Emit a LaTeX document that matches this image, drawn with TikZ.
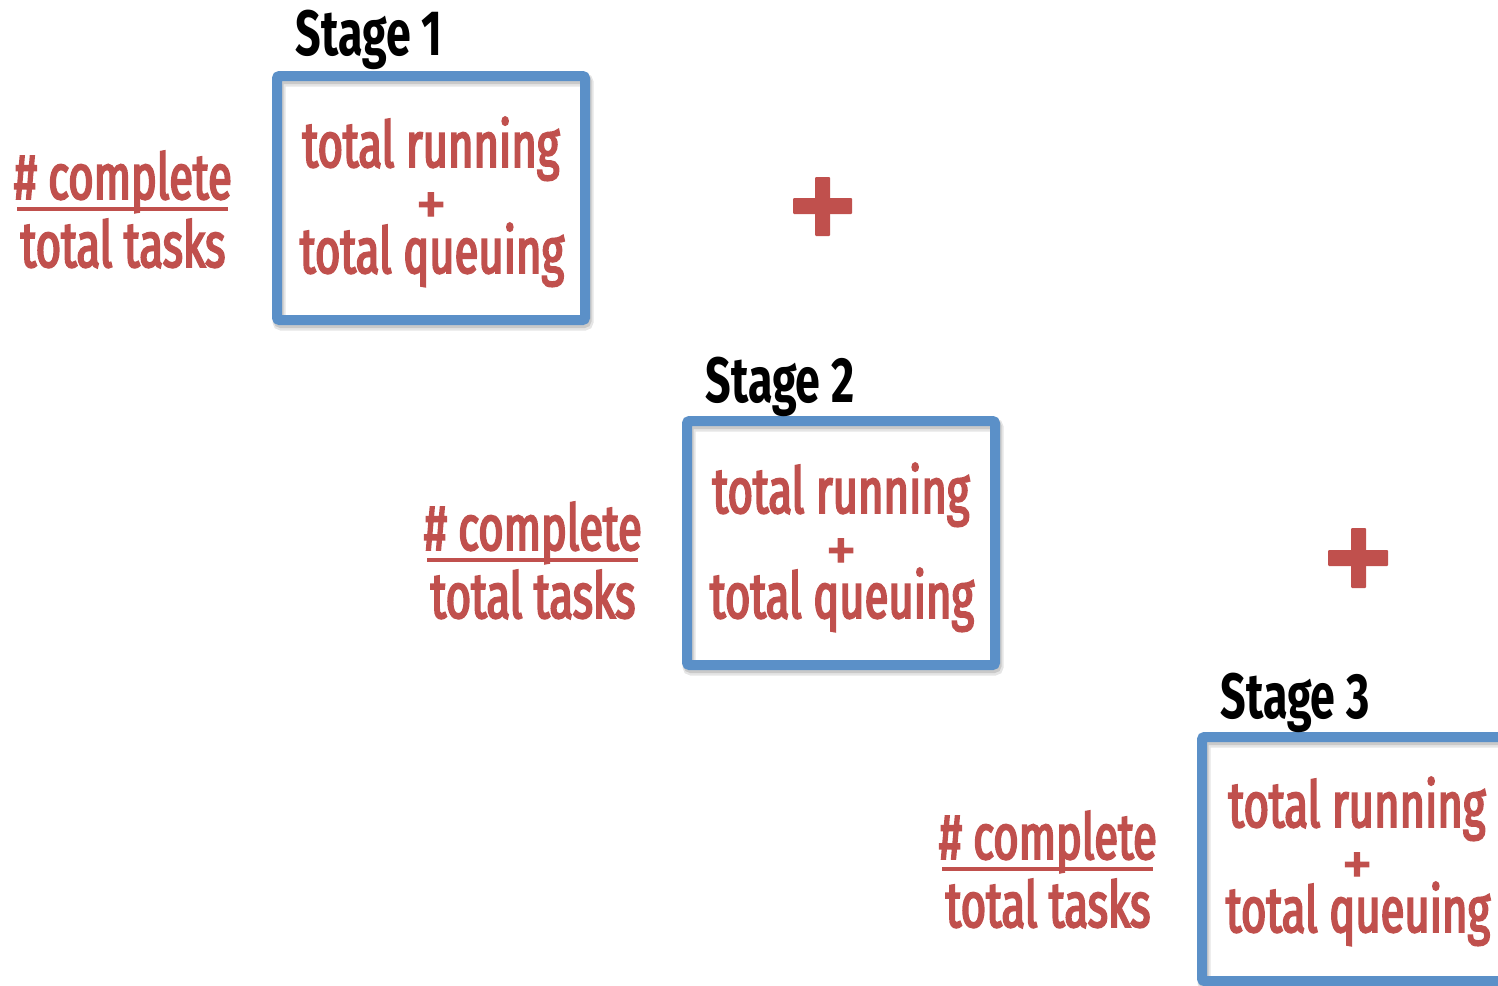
\documentclass[tikz,border=0pt]{standalone}
\usepackage{fontspec}
\usetikzlibrary{calc}
\newfontfamily\termfont[FakeStretch=0.68,FakeBold=3]{Fira Sans}
\newfontfamily\plusfont[FakeBold=2]{Fira Sans}
\newfontfamily\headfont[FakeStretch=0.70]{Fira Sans}
\definecolor{boxblue}{RGB}{91,144,200}
\definecolor{termred}{RGB}{192,80,77}

\tikzset{
  stagebox/.style={draw=boxblue, line width=10pt, rounded corners=2.5pt,
    minimum width=308pt, minimum height=244pt, inner sep=0pt, outer sep=0pt,
    anchor=north west,
    preaction={draw=black, opacity=0.10, line width=13pt,
      transform canvas={shift={(2pt,-4pt)}}},
    preaction={draw=black, opacity=0.12, line width=10pt,
      transform canvas={shift={(1.5pt,-3pt)}}}},
  term/.style={text=termred, font=\termfont\fontsize{64}{64}\selectfont,
    inner sep=0pt, anchor=base},
  % the small plus sits on its baseline; its box is trimmed to the glyph
  smallplus/.style={text=termred, font=\plusfont\fontsize{62}{62}\selectfont,
    inner sep=0pt, text height=34pt, text depth=0pt, anchor=base},
  stagelabel/.style={text=black, font=\headfont\bfseries\fontsize{64}{64}\selectfont,
    inner sep=0pt, anchor=base},
  fracbar/.style={draw=termred, line width=4pt},
  bigplus/.style={fill=termred, rounded corners=1pt}
}

\begin{document}
\begin{tikzpicture}[x=1pt,y=-1pt]
  \useasboundingbox (0,0) rectangle (1498,985);
  \clip (0,0) rectangle (1498,985);

  % ---- Stage 1 ----
  \node[stagebox] (box1) at (277,76) {};
  \node[stagelabel] (st1) at (369,55) {Stage 1};
  \node[term] (run1) at (431,167) {total running};
  \node[smallplus] (p1) at (431,225) {+};
  \node[term] (que1) at (432,273) {total queuing};
  \node[term] (num1) at (123,199) {\# complete};
  \node[term] (den1) at (123,267) {total tasks};
  \coordinate (bar1a) at (17,209);
  \coordinate (bar1b) at (228,209);
  \draw[fracbar] (bar1a) -- (bar1b);

  % ---- plus between stage 1 and 2 ----
  \fill[bigplus] (815,177) rectangle (830,236);
  \fill[bigplus] (793,198) rectangle (852,214);

  % ---- Stage 2 ----
  \node[stagebox] (box2) at (687,421) {};
  \node[stagelabel] (st2) at (780,402) {Stage 2};
  \node[term] (run2) at (841,513) {total running};
  \node[smallplus] (p2) at (841,571) {+};
  \node[term] (que2) at (842,618) {total queuing};
  \node[term] (num2) at (533,550) {\# complete};
  \node[term] (den2) at (533,618) {total tasks};
  \coordinate (bar2a) at (427,560);
  \coordinate (bar2b) at (638,560);
  \draw[fracbar] (bar2a) -- (bar2b);

  % ---- plus between stage 2 and 3 ----
  \fill[bigplus] (1351,528) rectangle (1366,588);
  \fill[bigplus] (1328,550) rectangle (1388,566);

  % ---- Stage 3 ----
  \node[stagebox] (box3) at (1202,737) {};
  \node[stagelabel] (st3) at (1295,718) {Stage 3};
  \node[term] (run3) at (1357,827) {total running};
  \node[smallplus] (p3) at (1357,885) {+};
  \node[term] (que3) at (1358,932) {total queuing};
  \node[term] (num3) at (1048,859) {\# complete};
  \node[term] (den3) at (1048,927) {total tasks};
  \coordinate (bar3a) at (942,869);
  \coordinate (bar3b) at (1153,869);
  \draw[fracbar] (bar3a) -- (bar3b);
\end{tikzpicture}
\end{document}
